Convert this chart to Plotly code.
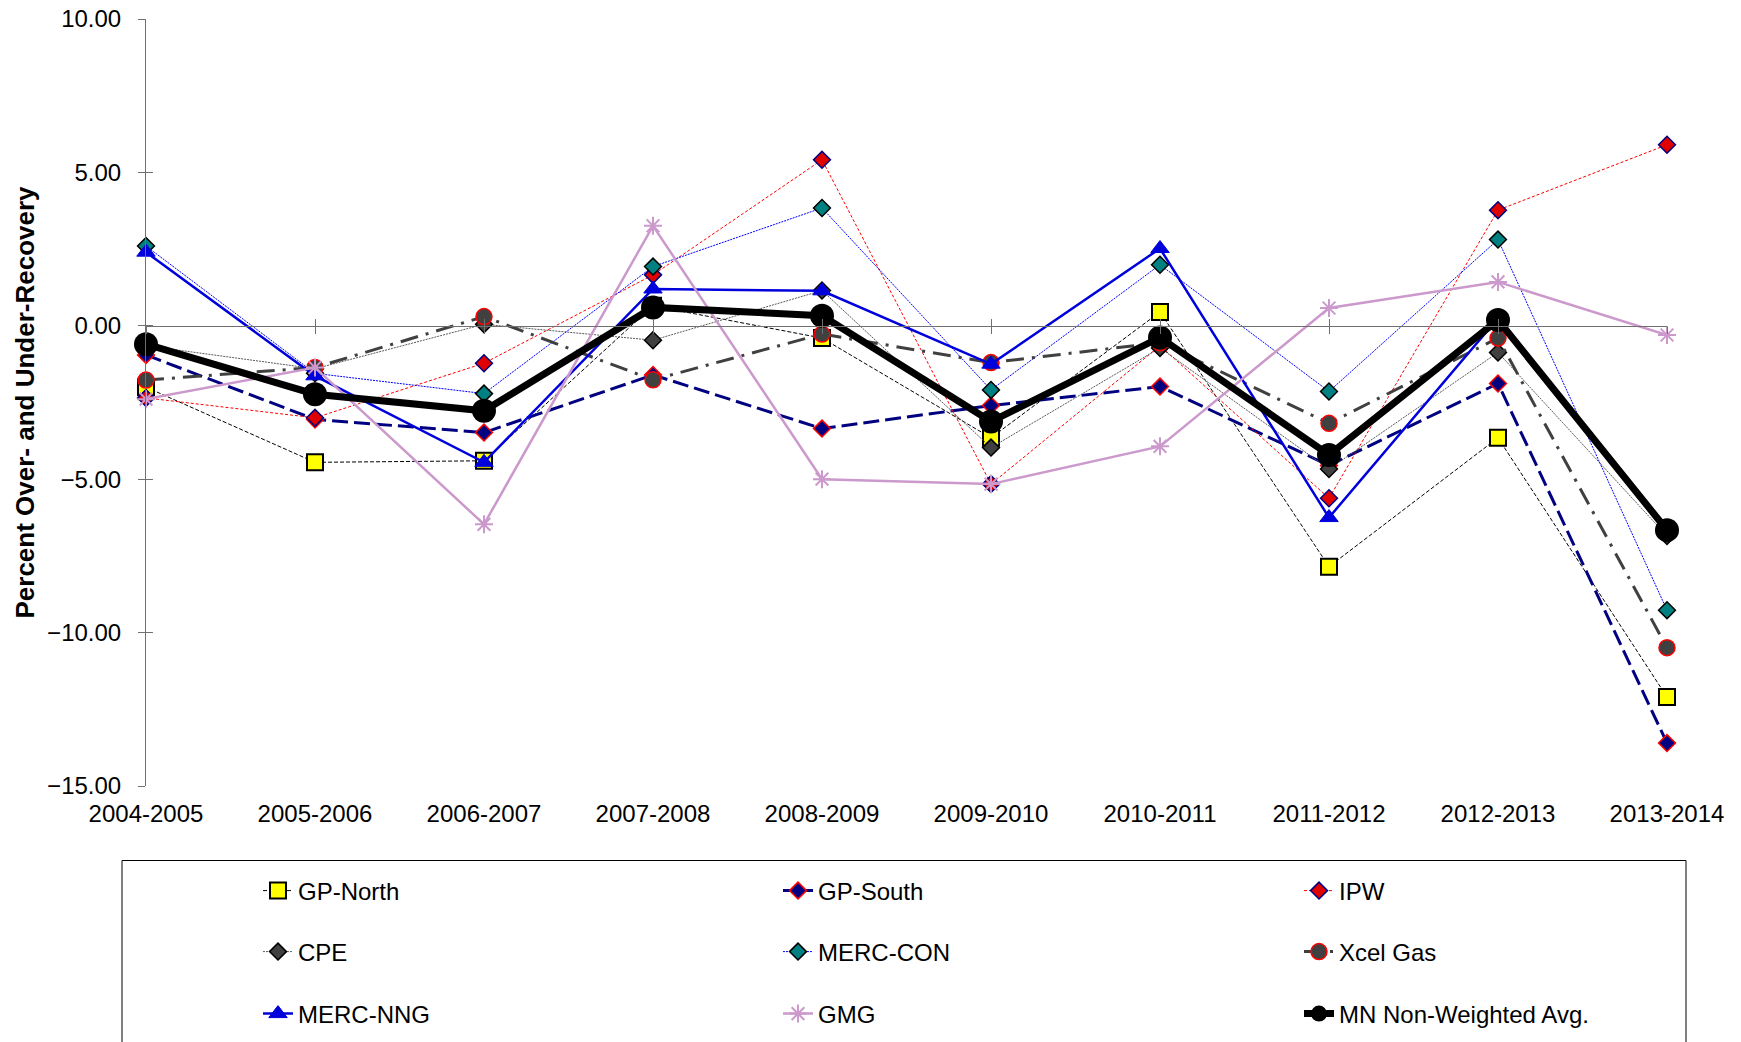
import plotly.graph_objects as go

categories = ["2004-2005", "2005-2006", "2006-2007", "2007-2008", "2008-2009",
              "2009-2010", "2010-2011", "2011-2012", "2012-2013", "2013-2014"]

gp_north = [-2.00, -4.45, -4.40, 0.65, -0.40, -3.65, 0.45, -7.85, -3.65, -12.10]
gp_south = [-0.95, -3.05, -3.48, -1.60, -3.35, -2.60, -1.98, -4.55, -1.88, -13.60]
ipw = [-2.35, -3.00, -1.22, 1.66, 5.41, -5.16, -0.65, -5.62, 3.77, 5.90]
cpe = [-0.65, -1.40, 0.05, -0.47, 1.15, -3.97, -0.72, -4.67, -0.87, -6.85]
merc_con = [2.60, -1.55, -2.21, 1.93, 3.84, -2.09, 1.99, -2.14, 2.81, -9.27]
xcel_gas = [-1.77, -1.36, 0.30, -1.76, -0.27, -1.20, -0.55, -3.18, -0.40, -10.49]
merc_nng = [2.40, -1.63, -4.45, 1.20, 1.14, -1.25, 2.52, -6.25, 0.25, -6.60]
gmg = [-2.39, -1.36, -6.47, 3.26, -5.00, -5.16, -3.93, 0.58, 1.43, -0.30]
mn_avg = [-0.60, -2.23, -2.77, 0.60, 0.33, -3.12, -0.38, -4.21, 0.19, -6.66]

y_ticks = [-15, -10, -5, 0, 5, 10]

FONT = "Liberation Sans, Arial, sans-serif"

series = [
    ("GP-North", gp_north, dict(color="#000000", width=1, dash="4px,2px"),
     dict(symbol="square", size=16, color="#FFFF00", line=dict(color="#000000", width=2))),
    ("GP-South", gp_south, dict(color="#000080", width=3, dash="16px,6px"),
     dict(symbol="diamond", size=13, color="#000080", line=dict(color="#FF0000", width=1.5))),
    ("IPW", ipw, dict(color="#FF0000", width=1, dash="3px,2px"),
     dict(symbol="diamond", size=13, color="#E00000", line=dict(color="#000080", width=1.5))),
    ("CPE", cpe, dict(color="#595959", width=1, dash="2px,1px"),
     dict(symbol="diamond", size=13, color="#404040", line=dict(color="#000000", width=1.5))),
    ("MERC-CON", merc_con, dict(color="#0000FF", width=1, dash="2px,1px"),
     dict(symbol="diamond", size=13, color="#008080", line=dict(color="#000000", width=1.5))),
    ("Xcel Gas", xcel_gas, dict(color="#404040", width=3, dash="18px,8px,3px,8px"),
     dict(symbol="circle", size=16, color="#404040", line=dict(color="#FF0000", width=1.5))),
    ("MERC-NNG", merc_nng, dict(color="#0000DD", width=2.5),
     dict(symbol="triangle-up", size=16, color="#0000DD", line=dict(color="#0000DD", width=1))),
    ("GMG", gmg, dict(color="#CC99CC", width=2.5),
     dict(symbol="asterisk-open", size=15, color="#CC99CC", line=dict(color="#CC99CC", width=2))),
    ("MN Non-Weighted Avg.", mn_avg, dict(color="#000000", width=7),
     dict(symbol="circle", size=24, color="#000000", line=dict(color="#000000", width=0))),
]

# plot area in px
L, R, T, B = 146, 74, 19, 256
W, H = 1741, 1042
pw = W - L - R
ph = H - T - B

def px_x(X):
    return (X - L) / pw

def px_y(Y):
    return (H - B - Y) / ph

col_text = [303, 823, 1344]
row_y = [891, 952, 1014]

fig = go.Figure()
legends = {}
for i, (name, vals, line, marker) in enumerate(series):
    lname = "legend" if i == 0 else f"legend{i+1}"
    fig.add_trace(go.Scatter(
        x=categories, y=vals, name=name, mode="lines+markers",
        line=line, marker=marker, cliponaxis=False, legend=lname,
    ))
    r, c = divmod(i, 3)
    legends[lname] = dict(
        x=px_x(col_text[c] - 45), y=px_y(row_y[r]), xanchor="left", yanchor="middle",
        orientation="h", bgcolor="rgba(0,0,0,0)", borderwidth=0,
        font=dict(family=FONT, size=24, color="#000000"),
    )

# helper empty traces so the overlay axes render
fig.add_trace(go.Scatter(x=[], y=[], xaxis="x2", yaxis="y2", showlegend=False, hoverinfo="skip"))
fig.add_trace(go.Scatter(x=[], y=[], xaxis="x3", yaxis="y", showlegend=False, hoverinfo="skip"))

axis_col = "#707070"
fig.update_layout(
    width=W, height=H,
    margin=dict(l=L, r=R, t=T, b=B, pad=0, autoexpand=False),
    paper_bgcolor="white", plot_bgcolor="white",
    font=dict(family=FONT, size=24, color="#000000"),
    xaxis=dict(type="category", range=[0, 9], showgrid=False, zeroline=False, showline=False,
               automargin=False,
               ticks="outside", ticklen=6, tickcolor="rgba(0,0,0,0)",
               tickfont=dict(family=FONT, size=24, color="#000000")),
    xaxis2=dict(overlaying="x", anchor="free", position=0.6, range=[0, 9], type="linear",
                automargin=False,
                tickvals=list(range(10)), showticklabels=False, showgrid=False, zeroline=False,
                showline=True, linecolor=axis_col, linewidth=1,
                ticks="outside", ticklen=7, tickcolor=axis_col, tickwidth=1),
    xaxis3=dict(overlaying="x", anchor="free", position=0.6, range=[0, 9], type="linear",
                automargin=False,
                tickvals=list(range(10)), showticklabels=False, showgrid=False, zeroline=False,
                showline=False, ticks="inside", ticklen=7, tickcolor=axis_col, tickwidth=1),
    yaxis=dict(range=[-15, 10], tickvals=y_ticks, tickformat=".2f", showgrid=False, zeroline=False,
               automargin=False,
               showline=True, linecolor=axis_col, linewidth=1,
               ticks="outside", ticklen=7, tickcolor=axis_col, tickwidth=1,
               ticklabelstandoff=12,
               tickfont=dict(family=FONT, size=24, color="#000000"),
               title=dict(text="<b>Percent Over- and Under-Recovery</b>", standoff=5,
                          font=dict(family=FONT, size=26, color="#000000"))),
    yaxis2=dict(overlaying="y", anchor="x", side="left", range=[-15, 10], tickvals=y_ticks,
                automargin=False,
                showticklabels=False, showgrid=False, zeroline=False, showline=False,
                ticks="inside", ticklen=7, tickcolor=axis_col, tickwidth=1),
    showlegend=True,
    **legends,
)

fig.add_shape(type="rect", xref="paper", yref="paper",
              x0=px_x(122), x1=px_x(1686), y0=px_y(1060), y1=px_y(860.5),
              line=dict(color="#000000", width=1), fillcolor="rgba(0,0,0,0)", layer="below")

fig.write_html("out.html", config={"displayModeBar": False},
               post_script="document.body.style.margin='0';")
